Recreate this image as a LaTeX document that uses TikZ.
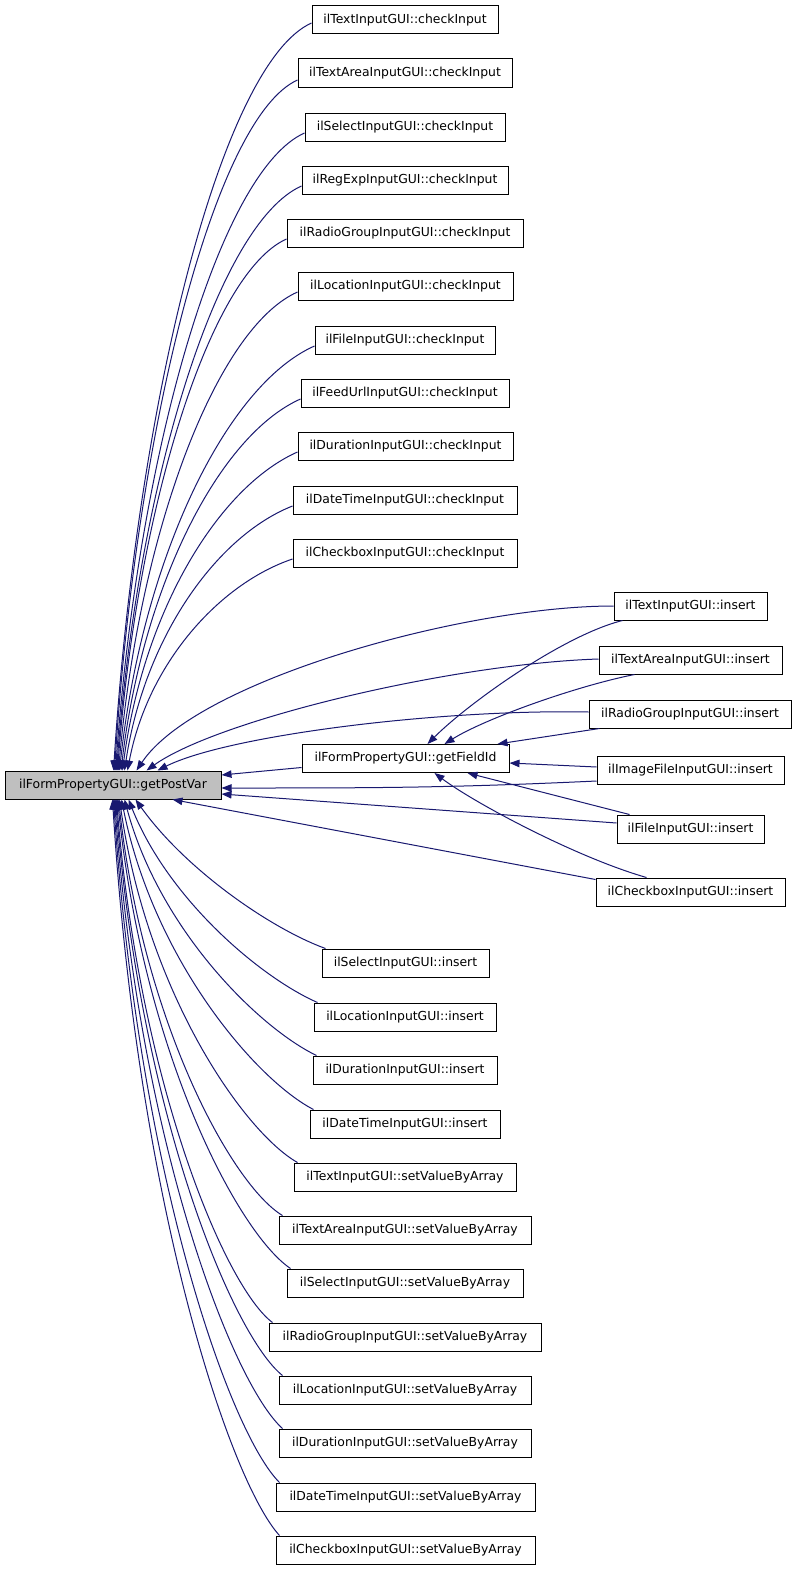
\documentclass[tikz,border=0pt]{standalone}
\usepackage{fontspec}
\setmainfont{DejaVu Sans}
\usetikzlibrary{arrows.meta}
\definecolor{edgecol}{HTML}{191970}
\definecolor{hl}{HTML}{BFBFBF}
\begin{document}
\begin{tikzpicture}[x=1pt,y=-1pt,
  box/.style={draw=black, line width=1pt, minimum height=28pt, inner sep=0pt, fill=white, font=\fontsize{12.4}{14}\selectfont},
  edge/.style={draw=edgecol, line width=1pt, -{Triangle[length=10pt,width=7.5pt]}},
]
\useasboundingbox[fill=white] (0,0) rectangle (797,1571);
% main node
\node[box, fill=hl, minimum width=216pt] (gpv) at (113,785) {ilFormPropertyGUI::getPostVar};
\node[box, minimum width=207pt] (fid) at (405.5,758.5) {ilFormPropertyGUI::getFieldId};
% checkInput column
\node[box, minimum width=186pt] (c1) at (405,20) {ilTextInputGUI::checkInput};
\node[box, minimum width=214pt] (c2) at (405,73) {ilTextAreaInputGUI::checkInput};
\node[box, minimum width=200pt] (c3) at (405,127) {ilSelectInputGUI::checkInput};
\node[box, minimum width=206pt] (c4) at (405,180) {ilRegExpInputGUI::checkInput};
\node[box, minimum width=236pt] (c5) at (405,233) {ilRadioGroupInputGUI::checkInput};
\node[box, minimum width=215pt] (c6) at (405.5,286) {ilLocationInputGUI::checkInput};
\node[box, minimum width=180pt] (c7) at (405,340) {ilFileInputGUI::checkInput};
\node[box, minimum width=208pt] (c8) at (405,393) {ilFeedUrlInputGUI::checkInput};
\node[box, minimum width=215pt] (c9) at (405.5,446) {ilDurationInputGUI::checkInput};
\node[box, minimum width=224pt] (c10) at (405,500) {ilDateTimeInputGUI::checkInput};
\node[box, minimum width=224pt] (c11) at (405,553) {ilCheckboxInputGUI::checkInput};
% right column inserts
\node[box, minimum width=153pt] (i1) at (690.5,606) {ilTextInputGUI::insert};
\node[box, minimum width=183pt] (i2) at (690.5,660) {ilTextAreaInputGUI::insert};
\node[box, minimum width=202pt] (i3) at (690,714) {ilRadioGroupInputGUI::insert};
\node[box, minimum width=187pt] (img) at (690.5,770) {ilImageFileInputGUI::insert};
\node[box, minimum width=147pt] (fin) at (690.5,829) {ilFileInputGUI::insert};
\node[box, minimum width=189pt] (cbi) at (690.5,892) {ilCheckboxInputGUI::insert};
% lower column
\node[box, minimum width=167pt] (s1) at (405.5,963) {ilSelectInputGUI::insert};
\node[box, minimum width=182pt] (s2) at (405,1017) {ilLocationInputGUI::insert};
\node[box, minimum width=184pt] (s3) at (405,1070) {ilDurationInputGUI::insert};
\node[box, minimum width=190pt] (s4) at (405,1124) {ilDateTimeInputGUI::insert};
\node[box, minimum width=222pt] (v1) at (405,1177) {ilTextInputGUI::setValueByArray};
\node[box, minimum width=252pt] (v2) at (405,1230) {ilTextAreaInputGUI::setValueByArray};
\node[box, minimum width=236pt] (v3) at (405,1283) {ilSelectInputGUI::setValueByArray};
\node[box, minimum width=272pt] (v4) at (405,1337) {ilRadioGroupInputGUI::setValueByArray};
\node[box, minimum width=252pt] (v5) at (405,1390) {ilLocationInputGUI::setValueByArray};
\node[box, minimum width=252pt] (v6) at (405,1443) {ilDurationInputGUI::setValueByArray};
\node[box, minimum width=259pt] (v7) at (405.5,1497) {ilDateTimeInputGUI::setValueByArray};
\node[box, minimum width=259pt] (v8) at (405.5,1550) {ilCheckboxInputGUI::setValueByArray};
% top fan
\draw[edge] ([yshift=-3pt]c1.west) .. controls +(-89,40) and +(24,-374) .. ([xshift=109pt]gpv.north west);
\draw[edge] ([yshift=-7pt]c2.west) .. controls +(-82,37) and +(22,-346) .. ([xshift=110pt]gpv.north west);
\draw[edge] ([yshift=-6pt]c3.west) .. controls +(-85,38) and +(23,-319) .. ([xshift=111pt]gpv.north west);
\draw[edge] ([yshift=-6pt]c4.west) .. controls +(-83,37) and +(22,-293) .. ([xshift=112pt]gpv.north west);
\draw[edge] ([yshift=-6pt]c5.west) .. controls +(-76,34) and +(20,-266) .. ([xshift=113pt]gpv.north west);
\draw[edge] ([yshift=-6pt]c6.west) .. controls +(-81,36) and +(21,-240) .. ([xshift=114pt]gpv.north west);
\draw[edge] ([yshift=-6pt]c7.west) .. controls +(-88,39) and +(23,-213) .. ([xshift=115pt]gpv.north west);
\draw[edge] ([yshift=-6pt]c8.west) .. controls +(-81,36) and +(22,-186) .. ([xshift=116.5pt]gpv.north west);
\draw[edge] ([yshift=-6pt]c9.west) .. controls +(-79,35) and +(21,-160) .. ([xshift=118pt]gpv.north west);
\draw[edge] ([yshift=-6pt]c10.west) .. controls +(-76,30) and +(20,-133) .. ([xshift=120pt]gpv.north west);
\draw[edge] ([yshift=-6pt]c11.west) .. controls +(-74,25) and +(20,-106) .. ([xshift=123pt]gpv.north west);
\draw[edge] (i1.west) .. controls +(-150,0) and +(60,-90) .. ([xshift=132pt]gpv.north west);
\draw[edge] ([yshift=1pt]i2.west) .. controls +(-150,5) and +(70,-50) .. ([xshift=142pt]gpv.north west);
\draw[edge] ([yshift=2pt]i3.west) .. controls +(-150,-3) and +(70,-35) .. ([xshift=153pt]gpv.north west);
% right side to gpv
\draw[edge] ([yshift=-9pt]fid.west) -- ([yshift=10pt]gpv.east);
\draw[edge] ([yshift=-11pt]img.west) .. controls +(-150,7) and +(150,0) .. ([yshift=-3pt]gpv.east);
\draw[edge] ([yshift=6pt]fin.west) -- ([yshift=-9pt]gpv.east);
\draw[edge] ([yshift=-2pt]cbi.north west) -- ([xshift=168pt]gpv.south west);
% into getFieldId
\draw[edge] ([xshift=9pt]i1.south west) .. controls +(-60,15) and +(40,-40) .. ([xshift=126pt]fid.north west);
\draw[edge] ([xshift=36pt]i2.south west) .. controls +(-60,12) and +(40,-25) .. ([xshift=143pt]fid.north west);
\draw[edge] ([xshift=11pt]i3.south west) -- ([xshift=196pt]fid.north west);
\draw[edge] ([yshift=3pt]img.west) -- ([yshift=-4.5pt]fid.east);
\draw[edge] ([xshift=13pt]fin.north west) -- ([xshift=166pt]fid.south west);
\draw[edge] ([xshift=51pt]cbi.north west) .. controls +(-70,-20) and +(40,30) .. ([xshift=133pt]fid.south west);
% bottom fan
\draw[edge] ([xshift=4pt]s1.north west) .. controls +(-55,-20) and +(50,70) .. ([xshift=131pt]gpv.south west);
\draw[edge] ([xshift=4pt]s2.north west) .. controls +(-57,-25) and +(40,100) .. ([xshift=124pt]gpv.south west);
\draw[edge] ([xshift=4pt]s3.north west) .. controls +(-58,-28) and +(35,130) .. ([xshift=120pt]gpv.south west);
\draw[edge] ([xshift=4pt]s4.north west) .. controls +(-58,-30) and +(32,160) .. ([xshift=117pt]gpv.south west);
\draw[edge] ([xshift=4pt]v1.north west) .. controls +(-53,-30) and +(28,195) .. ([xshift=115pt]gpv.south west);
\draw[edge] ([xshift=4pt]v2.north west) .. controls +(-50,-30) and +(25,225) .. ([xshift=114pt]gpv.south west);
\draw[edge] ([xshift=4pt]v3.north west) .. controls +(-52,-35) and +(26,255) .. ([xshift=113pt]gpv.south west);
\draw[edge] ([xshift=4pt]v4.north west) .. controls +(-47,-35) and +(23,285) .. ([xshift=112pt]gpv.south west);
\draw[edge] ([xshift=4pt]v5.north west) .. controls +(-50,-40) and +(25,315) .. ([xshift=111pt]gpv.south west);
\draw[edge] ([xshift=4pt]v6.north west) .. controls +(-50,-45) and +(25,345) .. ([xshift=110pt]gpv.south west);
\draw[edge] ([xshift=4pt]v7.north west) .. controls +(-50,-50) and +(25,375) .. ([xshift=109pt]gpv.south west);
\draw[edge] ([xshift=4pt]v8.north west) .. controls +(-50,-55) and +(25,405) .. ([xshift=108pt]gpv.south west);
\end{tikzpicture}
\end{document}
